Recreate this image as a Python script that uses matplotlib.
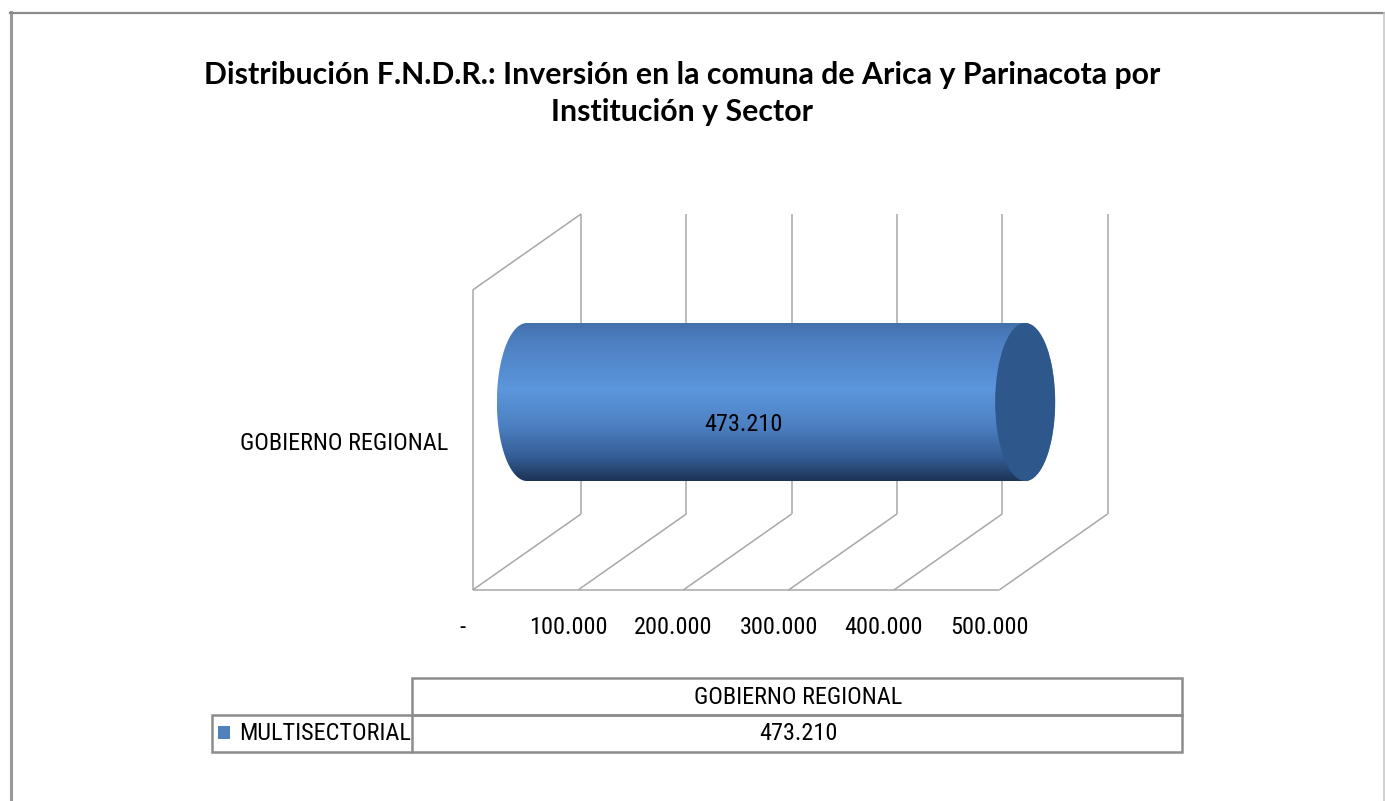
import numpy as np
import matplotlib
matplotlib.use("Agg")
import matplotlib.pyplot as plt
from matplotlib.patches import Polygon, Ellipse, Rectangle
from matplotlib.colors import LinearSegmentedColormap

plt.rcParams["font.family"] = ["Roboto Condensed", "DejaVu Sans"]
plt.rcParams["font.stretch"] = "condensed"

# --- data ---
title_lines = ["Distribución F.N.D.R.: Inversión en la comuna de Arica y Parinacota por",
               "Institución y Sector"]
categories = ["GOBIERNO REGIONAL"]
series = ["MULTISECTORIAL"]
values = [473210]
x_ticks = [0, 100000, 200000, 300000, 400000, 500000]


def fmt(v):
    return "-" if v == 0 else f"{v:,}".replace(",", ".")


W, H = 1385, 801
FS = 17.5
fig = plt.figure(figsize=(W / 100, H / 100), dpi=100)

# layout axes in pixel coords (frame + table)
lay = fig.add_axes([0, 0, 1, 1])
lay.set_xlim(0, W)
lay.set_ylim(H, 0)
lay.axis("off")

# chart axes: x = value, y = wall height (0 floor .. 1 top), oblique depth
ax = fig.add_axes([0, 0, 1, 1])
ax.patch.set_visible(False)
ax.axis("off")
px_per_val = 105.3 / 100000
x0_px, floor_px, wall_px = 472.7, 590, 300
DX = 108.3 / px_per_val
DY = 76 / wall_px


def proj(v, d, h):
    return v + d * DX, h + d * DY


grid_kw = dict(color="#a8a8a8", lw=1.1, solid_capstyle="butt")
for v in x_ticks:
    (xa, ya), (xb, yb) = proj(v, 1, 0), proj(v, 1, 1)
    ax.plot([xa, xb], [ya, yb], **grid_kw)
    (xa, ya), (xb, yb) = proj(v, 0, 0), proj(v, 1, 0)
    ax.plot([xa, xb], [ya, yb], **grid_kw)
    ax.annotate(fmt(v), proj(v, 0, 0), xytext=(-10, -38), textcoords="offset pixels",
                ha="center", va="center", fontsize=FS, color="#000000")
# floor front edge and left wall
p0, p1 = proj(0, 0, 0), proj(x_ticks[-1], 0, 0)
ax.plot([p0[0], p1[0]], [p0[1], p1[1]], **grid_kw)
p2 = proj(0, 0, 1)
ax.plot([p0[0], p2[0]], [p0[1], p2[1]], **grid_kw)
p3 = proj(0, 1, 1)
ax.plot([p2[0], p3[0]], [p2[1], p3[1]], **grid_kw)

# cylinder bar
val = values[0]
rx = 30 / px_per_val
ry = 79 / wall_px
xl, yc = proj(0, 0.5, 0.5)
xr, _ = proj(val, 0.5, 0.5)
t1 = np.linspace(np.pi / 2, 3 * np.pi / 2, 80)
t2 = np.linspace(-np.pi / 2, np.pi / 2, 80)
pts = np.concatenate([
    np.column_stack([xl + rx * np.cos(t1), yc + ry * np.sin(t1)]),
    np.column_stack([xr + rx * np.cos(t2), yc + ry * np.sin(t2)]),
])
body = Polygon(pts, closed=True, facecolor="none", edgecolor="none")
ax.add_patch(body)
cmap = LinearSegmentedColormap.from_list("cyl", [
    (0.0, "#4371ab"), (0.12, "#4d80c2"), (0.42, "#5c96dc"),
    (0.65, "#4d80c2"), (0.85, "#345d96"), (1.0, "#1c3354")])
grad = cmap(np.linspace(0, 1, 256))[:, None, :3]
im = ax.imshow(grad, extent=(xl - rx, xr + rx, yc - ry, yc + ry), origin="upper",
               aspect="auto", interpolation="bicubic", zorder=3)
im.set_clip_path(body)
ax.add_patch(Ellipse((xr, yc), 2 * rx, 2 * ry, facecolor="#2e578b",
                     edgecolor="none", zorder=4))
ax.text(*proj(val / 2, 0.2, 0.5), fmt(val), ha="center", va="center",
        fontsize=FS, color="#000000", zorder=5)
ax.set_xlim(-x0_px / px_per_val, (W - x0_px) / px_per_val)
ax.set_ylim(-(H - floor_px) / wall_px, floor_px / wall_px)

# category label
ax.annotate(categories[0], proj(0, 0, 0.5), xytext=(-24, -3), textcoords="offset pixels",
            ha="right", va="center", fontsize=FS)

# title
title_kw = dict(ha="center", va="center", fontsize=21.8, fontweight="bold",
                family=["Lato", "DejaVu Sans"], fontstretch="normal")
fig.text(682 / W, 1 - 75 / H, title_lines[0], **title_kw)
fig.text(682 / W, 1 - 112 / H, title_lines[1], **title_kw)

# outer frame
lay.plot([10.5, 10.5], [12, H], color="#999999", lw=2.2)
lay.plot([10, 1384], [13, 13], color="#8a8a8a", lw=1.6)
lay.plot([1384, 1384], [13, H], color="#c8c8c8", lw=1.2)

# data table
tb = dict(facecolor="none", edgecolor="#8c8c8c", lw=1.8)
lay.add_patch(Rectangle((412, 678), 770, 37, **tb))
lay.add_patch(Rectangle((212, 715), 970, 37, **tb))
lay.plot([412, 412], [715, 752], color="#8c8c8c", lw=1.8)
lay.text(798, 697, categories[0], ha="center", va="center", fontsize=FS)
lay.add_patch(Rectangle((218, 726), 12, 13, facecolor="#4f81bd", edgecolor="none"))
lay.text(239, 733, series[0], ha="left", va="center", fontsize=FS)
lay.text(798, 733, fmt(values[0]), ha="center", va="center", fontsize=FS)

fig.savefig("out.png", dpi=100)
